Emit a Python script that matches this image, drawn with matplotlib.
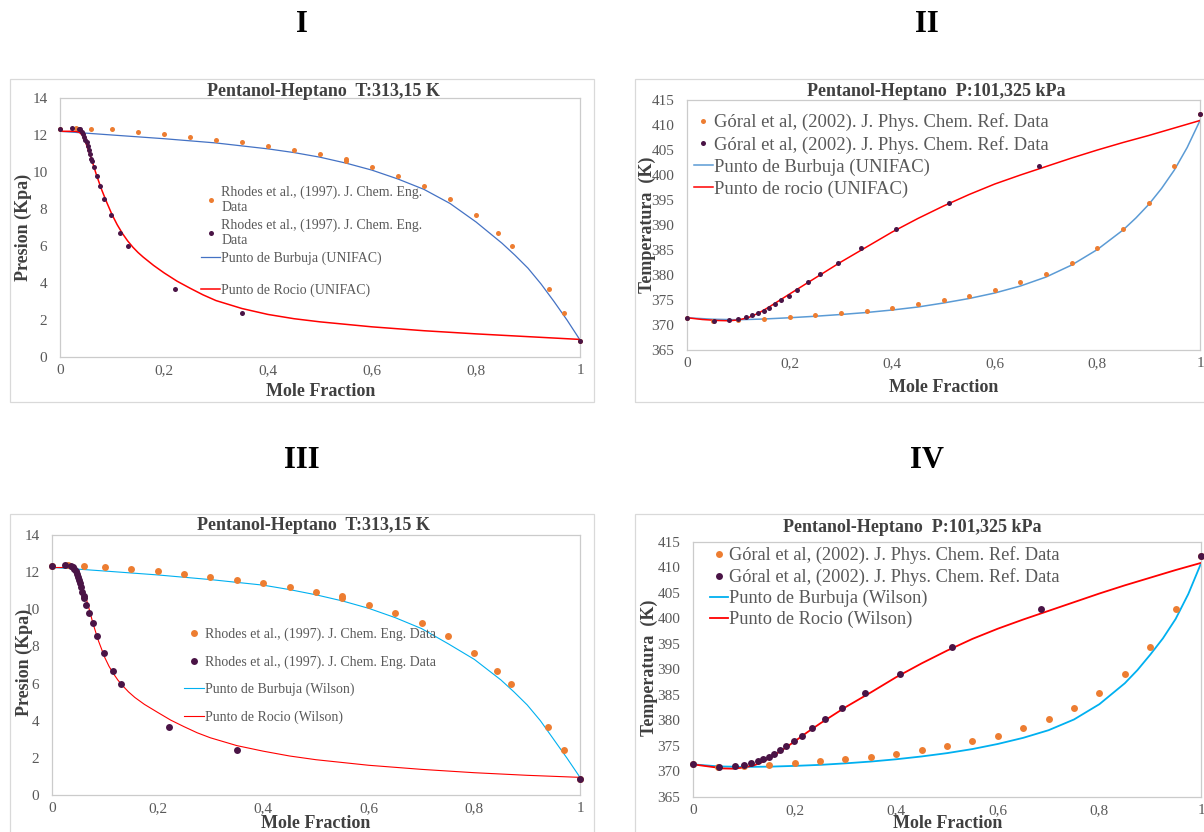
import matplotlib
matplotlib.use("Agg")
import matplotlib.pyplot as plt
from matplotlib.patches import Rectangle

plt.rcParams["font.family"] = ["Liberation Serif", "DejaVu Serif"]

W, H = 1204, 832

# ---- isotherm T = 313,15 K  (Rhodes et al., 1997) ----
x_liq_313 = [0.0, 0.03, 0.06, 0.10, 0.15, 0.20, 0.25, 0.30, 0.35, 0.40, 0.45, 0.50,
             0.55, 0.55, 0.60, 0.65, 0.70, 0.75, 0.80, 0.843, 0.87, 0.94, 0.97, 1.0]
P_liq_313 = [12.35, 12.4, 12.35, 12.3, 12.15, 12.05, 11.9, 11.75, 11.6, 11.4, 11.2, 10.95,
             10.7, 10.6, 10.25, 9.8, 9.25, 8.55, 7.65, 6.7, 6.0, 3.65, 2.4, 0.85]
y_vap_313 = [0.0, 0.024, 0.036, 0.039, 0.042, 0.045, 0.047, 0.049, 0.051, 0.053, 0.055, 0.057,
             0.060, 0.061, 0.065, 0.071, 0.077, 0.085, 0.098, 0.115, 0.13, 0.222, 0.35, 1.0]
P_vap_313 = P_liq_313

# UNIFAC curves
x_bub_unifac = [0.0, 0.03, 0.1, 0.2, 0.3, 0.4, 0.45, 0.5, 0.55, 0.6, 0.65, 0.7, 0.75,
                0.8, 0.85, 0.875, 0.9, 0.925, 0.95, 0.975, 1.0]
P_bub_unifac = [12.2, 12.14, 12.0, 11.8, 11.57, 11.25, 11.05, 10.8, 10.48, 10.1, 9.62, 9.06, 8.3,
                7.3, 6.15, 5.5, 4.8, 3.95, 3.0, 2.0, 0.92]
y_dew_unifac = [0.0, 0.03, 0.037, 0.045, 0.05, 0.055, 0.06, 0.065, 0.07, 0.08, 0.09, 0.1, 0.11,
                0.12, 0.13, 0.14, 0.15, 0.16, 0.18, 0.2, 0.225, 0.25, 0.275, 0.3, 0.35, 0.4,
                0.45, 0.5, 0.6, 0.7, 0.8, 0.9, 1.0]
P_dew_unifac = [12.2, 12.2, 12.15, 11.95, 11.55, 11.15, 10.75, 10.3, 9.85, 9.05, 8.35, 7.7, 7.15,
                6.68, 6.28, 5.94, 5.65, 5.4, 4.95, 4.55, 4.1, 3.72, 3.36, 3.05, 2.62, 2.3,
                2.07, 1.9, 1.63, 1.42, 1.25, 1.1, 0.95]

# Wilson curves
x_bub_wilson = [0.0, 0.03, 0.1, 0.2, 0.3, 0.4, 0.45, 0.5, 0.55, 0.6, 0.65, 0.7, 0.75,
                0.8, 0.85, 0.875, 0.9, 0.925, 0.95, 0.975, 1.0]
P_bub_wilson = [12.25, 12.2, 12.06, 11.85, 11.6, 11.3, 11.06, 10.78, 10.45, 10.05, 9.55, 8.96, 8.15,
                7.3, 6.2, 5.55, 4.85, 4.0, 3.0, 2.0, 0.95]
y_dew_wilson = [0.0, 0.03, 0.038, 0.044, 0.052, 0.058, 0.064, 0.07, 0.078, 0.088, 0.1, 0.108,
                0.116, 0.125, 0.135, 0.145, 0.157, 0.175, 0.2, 0.225, 0.25, 0.275, 0.3, 0.35,
                0.4, 0.45, 0.5, 0.6, 0.7, 0.8, 0.9, 1.0]
P_dew_wilson = [12.25, 12.25, 12.15, 12.0, 11.6, 11.15, 10.65, 10.05, 9.2, 8.3, 7.4, 6.93,
                6.55, 6.18, 5.85, 5.55, 5.25, 4.88, 4.45, 4.03, 3.68, 3.35, 3.08, 2.66,
                2.36, 2.1, 1.9, 1.6, 1.38, 1.2, 1.06, 0.95]

# ---- isobar P = 101,325 kPa  (Góral et al., 2002) ----
x_liq_101 = [0.0, 0.05, 0.1, 0.15, 0.2, 0.25, 0.3, 0.35, 0.4, 0.45, 0.5, 0.55, 0.6, 0.65,
             0.7, 0.75, 0.8, 0.85, 0.9, 0.95, 1.0]
y_vap_101 = [0.0, 0.052, 0.082, 0.1, 0.115, 0.127, 0.138, 0.15, 0.16, 0.171, 0.184, 0.198,
             0.214, 0.235, 0.259, 0.294, 0.339, 0.407, 0.51, 0.686, 1.0]
T_exp_101 = [371.45, 370.9, 371.0, 371.2, 371.6, 372.0, 372.4, 372.9, 373.4, 374.2, 375.0,
             375.9, 377.0, 378.6, 380.2, 382.4, 385.3, 389.2, 394.5, 401.8, 412.3]

x_bub_grid = [0.0, 0.05, 0.1, 0.15, 0.2, 0.25, 0.3, 0.35, 0.4, 0.45, 0.5, 0.55, 0.6, 0.65,
              0.7, 0.75, 0.8, 0.85, 0.875, 0.9, 0.925, 0.95, 0.975, 1.0]
T_bub_unifac = [371.45, 371.15, 371.05, 371.2, 371.45, 371.75, 372.1, 372.5, 373.0, 373.6,
                374.4, 375.3, 376.4, 377.8, 379.6, 382.0, 385.1, 389.0, 391.4, 394.1, 397.3,
                401.0, 405.5, 410.9]
T_bub_wilson = [371.4, 371.0, 370.9, 370.95, 371.1, 371.3, 371.6, 371.95, 372.4, 372.95,
                373.6, 374.4, 375.4, 376.6, 378.1, 380.2, 383.2, 387.3, 389.9, 392.9, 396.1,
                399.9, 404.8, 410.8]

y_dew_grid = [0.0, 0.03, 0.06, 0.08, 0.1, 0.12, 0.14, 0.16, 0.18, 0.2, 0.225, 0.25, 0.275,
              0.3, 0.35, 0.4, 0.45, 0.5, 0.55, 0.6, 0.65, 0.7, 0.75, 0.8, 0.85, 0.9, 0.95, 1.0]
T_dew_unifac = [371.45, 371.1, 370.9, 370.85, 371.0, 371.5, 372.4, 373.6, 374.9, 376.2, 377.8,
                379.4, 381.0, 382.6, 385.6, 388.6, 391.3, 393.8, 396.1, 398.2, 400.0, 401.7,
                403.4, 405.0, 406.5, 407.9, 409.4, 410.9]
T_dew_wilson = [371.4, 371.0, 370.6, 370.55, 370.8, 371.2, 372.0, 373.2, 374.5, 375.9, 377.7,
                379.4, 381.0, 382.6, 385.5, 388.5, 391.2, 393.7, 396.0, 398.0, 399.8, 401.5,
                403.2, 404.9, 406.5, 408.0, 409.5, 410.9]

x_ticks = [0, 0.2, 0.4, 0.6, 0.8, 1.0]
x_ticklabels = ["0", "0,2", "0,4", "0,6", "0,8", "1"]

ORANGE = "#ED7D31"
PURPLE = "#4A1446"
RED = "#FF0000"
GREY = "#595959"
TXT = "#404040"

fig = plt.figure(figsize=(W / 100, H / 100), dpi=100)


def fx(px):
    return px / W


def fy(py):
    return 1 - py / H


def frame(left, top, right, bottom):
    fig.patches.append(Rectangle((fx(left), fy(bottom)), fx(right) - fx(left),
                                 fy(top) - fy(bottom), transform=fig.transFigure,
                                 fill=False, edgecolor="#D9D9D9", linewidth=0.9))


def make_axes(left, top, right, bottom, ylim, yticks):
    ax = fig.add_axes([fx(left), fy(bottom), fx(right) - fx(left), fy(top) - fy(bottom)])
    for s in ax.spines.values():
        s.set_color("#CBCBCB")
        s.set_linewidth(0.9)
    ax.set_xlim(0, 1)
    ax.set_ylim(*ylim)
    ax.set_xticks(x_ticks)
    ax.set_xticklabels(x_ticklabels)
    ax.set_yticks(yticks)
    ax.tick_params(length=0, labelsize=11, colors=GREY)
    ax.tick_params(axis="y", pad=9)
    ax.tick_params(axis="x", pad=5)
    return ax


def labels(title, tx, ty, ylabel, yx, yy, xx, xy):
    fig.text(fx(tx), fy(ty), title, ha="center", va="center", fontsize=13,
             fontweight="bold", color=TXT)
    fig.text(fx(yx), fy(yy), ylabel, ha="center", va="center", rotation=90,
             fontsize=13, fontweight="bold", color=TXT)
    fig.text(fx(xx), fy(xy), "Mole Fraction", ha="center", va="center", fontsize=13,
             fontweight="bold", color=TXT)


def legend_at(ax, handles, left, top, **kw):
    return ax.legend(handles=handles, loc="upper left", bbox_to_anchor=(fx(left), fy(top)),
                     bbox_transform=fig.transFigure, frameon=False, borderpad=0,
                     borderaxespad=0, numpoints=1, labelcolor=GREY, **kw)


# roman numerals
for txt, cx, cy in [("I", 302, 25), ("II", 927, 25), ("III", 302, 460), ("IV", 927, 460)]:
    fig.text(fx(cx), fy(cy), txt, ha="center", va="center", fontsize=22, fontweight="bold",
             color="black")

frame(10, 79, 594, 402)
frame(635, 79, 1215, 402)
frame(10, 514, 594, 845)
frame(635, 514, 1215, 845)

rhodes = "Rhodes et al., (1997). J. Chem. Eng. Data"
rhodes_wrapped = "Rhodes et al., (1997). J. Chem. Eng.\nData"
goral = "Góral et al, (2002). J. Phys. Chem. Ref. Data"

# ---------- Panel I ----------
ax1 = make_axes(60, 98, 580, 357, (0, 14), range(0, 15, 2))
h1, = ax1.plot(x_liq_313, P_liq_313, "o", color=ORANGE, ms=3.6, mec="none", zorder=3,
               clip_on=False, label=rhodes_wrapped)
h2, = ax1.plot(y_vap_313, P_vap_313, "o", color=PURPLE, ms=3.6, mec="none", zorder=4,
               clip_on=False, label=rhodes_wrapped)
h3, = ax1.plot(x_bub_unifac, P_bub_unifac, color="#4472C4", lw=0.9,
               label="Punto de Burbuja (UNIFAC)")
h4, = ax1.plot(y_dew_unifac, P_dew_unifac, color=RED, lw=1.1, label="Punto de Rocio (UNIFAC)")
leg1 = legend_at(ax1, [h1, h2, h3], 201, 186, fontsize=10, handlelength=1.37,
                 handletextpad=0.1, labelspacing=0.3)
ax1.add_artist(leg1)
legend_at(ax1, [h4], 201, 283.5, fontsize=10, handlelength=1.37, handletextpad=0.1)
labels("Pentanol-Heptano  T:313,15 K", 323, 92, "Presion (Kpa)", 23, 227, 321, 392)

# ---------- Panel II ----------
ax2 = make_axes(687, 100, 1200, 350, (365, 415), range(365, 416, 5))
ax2.plot(x_liq_101, T_exp_101, "o", color=ORANGE, ms=3.6, mec="none", zorder=3,
         clip_on=False, label=goral)
ax2.plot(y_vap_101, T_exp_101, "o", color=PURPLE, ms=3.6, mec="none", zorder=4,
         clip_on=False, label=goral)
ax2.plot(x_bub_grid, T_bub_unifac, color="#5B9BD5", lw=1.1, label="Punto de Burbuja (UNIFAC)")
ax2.plot(y_dew_grid, T_dew_unifac, color=RED, lw=1.1, label="Punto de rocio (UNIFAC)")
legend_at(ax2, None, 694, 113.5, fontsize=13.4, handlelength=1.02, handletextpad=0.05,
          labelspacing=0.25)
labels("Pentanol-Heptano  P:101,325 kPa", 936, 92, "Temperatura  (K)", 647, 225, 944, 387)

# ---------- Panel III ----------
ax3 = make_axes(52, 535, 580, 795, (0, 14), range(0, 15, 2))
ax3.plot(x_liq_313, P_liq_313, "o", color=ORANGE, ms=5, mec="none", zorder=3,
         clip_on=False, label=rhodes)
ax3.plot(y_vap_313, P_vap_313, "o", color=PURPLE, ms=5, mec="none", zorder=4,
         clip_on=False, label=rhodes)
ax3.plot(x_bub_wilson, P_bub_wilson, color="#00B0F0", lw=0.8, label="Punto de Burbuja (Wilson)")
ax3.plot(y_dew_wilson, P_dew_wilson, color=RED, lw=0.8, label="Punto de Rocio (Wilson)")
legend_at(ax3, None, 184, 628, fontsize=10, handlelength=1.44, handletextpad=0.1,
          labelspacing=1.0)
labels("Pentanol-Heptano  T:313,15 K", 313, 526, "Presion (Kpa)", 24, 662, 316, 824)

# ---------- Panel IV ----------
ax4 = make_axes(693, 542, 1201, 797, (365, 415), range(365, 416, 5))
ax4.plot(x_liq_101, T_exp_101, "o", color=ORANGE, ms=5, mec="none", zorder=3,
         clip_on=False, label=goral)
ax4.plot(y_vap_101, T_exp_101, "o", color=PURPLE, ms=5, mec="none", zorder=4,
         clip_on=False, label=goral)
ax4.plot(x_bub_grid, T_bub_wilson, color="#00B0F0", lw=1.3, label="Punto de Burbuja (Wilson)")
ax4.plot(y_dew_grid, T_dew_wilson, color=RED, lw=1.3, label="Punto de Rocio (Wilson)")
legend_at(ax4, None, 710, 546.5, fontsize=13.2, handlelength=1.0, handletextpad=0.05,
          labelspacing=0.2)
labels("Pentanol-Heptano  P:101,325 kPa", 912, 527, "Temperatura  (K)", 649, 668, 948, 823)

fig.savefig("out.png", dpi=100)
